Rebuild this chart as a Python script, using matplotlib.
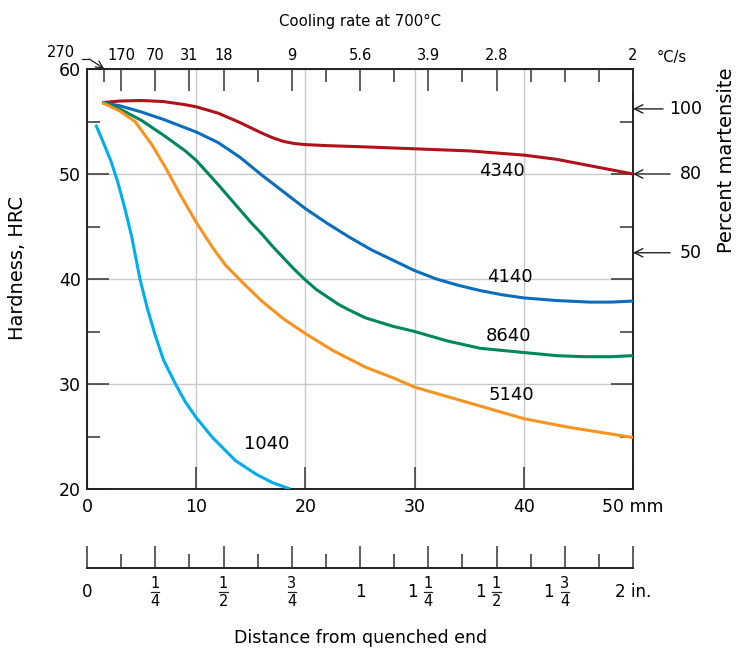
import numpy as np
import matplotlib
matplotlib.use('Agg')
import matplotlib.pyplot as plt
from matplotlib.ticker import FixedLocator, NullFormatter

plt.rcParams['font.family'] = ['DejaVu Sans']

# Jominy curves, distance (mm) vs hardness (HRC)
x_4340 = [1.4, 3, 5, 7, 9, 10, 12, 14, 15, 16, 17, 18, 19, 20, 22, 25, 30, 35, 40, 43, 45, 47, 50]
y_4340 = [56.8, 56.95, 57.0, 56.9, 56.6, 56.4, 55.8, 54.9, 54.4, 53.9, 53.45, 53.1, 52.9, 52.8,
          52.7, 52.6, 52.4, 52.2, 51.8, 51.4, 51.0, 50.6, 50.0]

x_4140 = [1.4, 3, 5, 7, 10, 12, 14, 16, 18, 20, 22, 24, 26, 28, 30, 32, 34, 36, 38, 40, 43, 46, 48, 50]
y_4140 = [56.8, 56.5, 55.9, 55.2, 54.0, 53.0, 51.6, 49.9, 48.3, 46.7, 45.3, 44.0, 42.8, 41.8,
          40.8, 40.0, 39.4, 38.9, 38.5, 38.2, 37.95, 37.8, 37.8, 37.9]

x_8640 = [1.4, 3, 5, 7, 9, 10, 12, 14, 15, 16, 17, 18, 19, 20, 21, 22, 23, 24, 25.5, 28, 30, 33, 36,
          40, 43, 45.5, 48, 50]
y_8640 = [56.8, 56.2, 55.1, 53.7, 52.2, 51.3, 49.0, 46.6, 45.4, 44.3, 43.1, 42.0, 40.9, 39.9,
          39.0, 38.3, 37.6, 37.05, 36.3, 35.5, 35.0, 34.1, 33.4, 33.0, 32.7, 32.6, 32.6, 32.7]

x_5140 = [1.4, 3, 4.4, 6, 7.3, 8.5, 10, 11.5, 12.7, 14.5, 16, 18, 20, 22.5, 25.5, 28, 30, 33, 36,
          40, 44, 47, 50]
y_5140 = [56.8, 56.0, 55.0, 52.7, 50.4, 48.1, 45.4, 43.0, 41.3, 39.4, 37.9, 36.2, 34.8, 33.2,
          31.6, 30.6, 29.7, 28.8, 27.9, 26.7, 25.9, 25.4, 24.9]

x_1040 = [0.8, 1.5, 2.2, 2.8, 3.5, 4.1, 4.85, 5.5, 6.2, 7.0, 8.1, 9.0, 10, 11.5, 13.6, 15.5, 17, 18.6]
y_1040 = [54.7, 53.0, 51.2, 49.3, 46.6, 44.0, 40.0, 37.3, 34.8, 32.3, 30.0, 28.3, 26.8, 24.9,
          22.7, 21.4, 20.6, 20.0]

steels = ['4340', '4140', '8640', '5140', '1040']
colors = ['#B0121B', '#0A6EBD', '#00875A', '#F7931E', '#00AEEF']
label_pos = [(38.0, 50.3), (38.7, 40.2), (38.6, 34.6), (38.9, 29.0), (16.5, 24.3)]

# top axis: cooling rate at 700 C, positions in inches (axis drawn with 2 in = 50 mm)
rate_in = [0.125, 0.25, 0.375, 0.5, 0.75, 1.0, 1.25, 1.5, 2.0]
rate_labels = ['170', '70', '31', '18', '9', '5.6', '3.9', '2.8', '2']
rate_minor_in = [0.0625, 0.625, 0.875, 1.125, 1.375, 1.625, 1.75, 1.875]

# right side: percent martensite against hardness
mart_pct = ['100', '80', '50']
mart_hrc = [56.2, 50.0, 42.5]

# bottom inch scale: whole part and fraction part of each label
inch_ticks = [0, 0.25, 0.5, 0.75, 1.0, 1.25, 1.5, 1.75, 2.0]
inch_whole = ['0', '', '', '', '1', '1', '1', '1', '2 in.']
inch_frac = ['', '1/4', '1/2', '3/4', '', '1/4', '1/2', '3/4', '']
inch_minor = [0.125, 0.375, 0.625, 0.875, 1.125, 1.375, 1.625, 1.875]

mm_per_in = 25.0

fig = plt.figure(figsize=(7.36, 6.5), dpi=100)
ax = fig.add_axes([87 / 736, 1 - 489 / 650, 546 / 736, 420 / 650])

xs = [x_4340, x_4140, x_8640, x_5140, x_1040]
ys = [y_4340, y_4140, y_8640, y_5140, y_1040]
for x, y, c, name, (lx, ly) in zip(xs, ys, colors, steels, label_pos):
    ax.plot(x, y, color=c, lw=2.2, solid_capstyle='butt', solid_joinstyle='round', zorder=3)
    ax.text(lx, ly, name, fontsize=13, ha='center', va='center', zorder=4)

ax.set_xlim(0, 50)
ax.set_ylim(20, 60)
ax.set_xticks([0, 10, 20, 30, 40, 50])
ax.set_xticklabels(['0', '10', '20', '30', '40', '50 mm'])
ax.set_yticks([20, 30, 40, 50, 60])
ax.yaxis.set_minor_locator(FixedLocator([25, 35, 45, 55]))
ax.grid(True, which='major', color='#c8c8c8', lw=1.0)
ax.tick_params(axis='x', direction='in', length=15.8, width=1.1, labelsize=12.5, pad=6.5,
               color='#333333')
ax.tick_params(axis='y', which='major', direction='in', length=15.8, width=1.1, labelsize=12.5,
               pad=4.5, right=True, color='#333333')
ax.tick_params(axis='y', which='minor', direction='in', length=9.4, width=1.1, right=True,
               color='#333333')
for s in ax.spines.values():
    s.set_linewidth(1.4)
    s.set_color('#222222')

# cooling rate axis on top
ax_top = ax.twiny()
ax_top.set_xlim(0, 50)
ax_top.set_xticks([v * mm_per_in for v in rate_in])
ax_top.set_xticklabels(rate_labels)
ax_top.xaxis.set_minor_locator(FixedLocator([v * mm_per_in for v in rate_minor_in]))
ax_top.xaxis.set_minor_formatter(NullFormatter())
ax_top.tick_params(axis='x', which='major', direction='in', length=15.8, width=1.1,
                   labelsize=10.5, pad=4, color='#333333')
ax_top.tick_params(axis='x', which='minor', direction='in', length=9.4, width=1.1,
                   color='#333333')
for s in ax_top.spines.values():
    s.set_visible(False)

ax.text(-2.35, 61.6, '270', fontsize=10.5, ha='center', va='center', clip_on=False)
ax.plot([-0.5, 0.2], [60.95, 60.95], color='#222222', lw=0.9, clip_on=False)
ax.annotate('', xy=(0.0625 * mm_per_in, 60.05), xytext=(0.2, 60.95),
            arrowprops=dict(arrowstyle='->,head_length=0.5,head_width=0.25', lw=0.9,
                            color='#222222', shrinkA=0, shrinkB=0),
            annotation_clip=False)
ax.text(53.5, 61.05, '°C/s', fontsize=10.5, ha='center', va='center', clip_on=False)
fig.text(360 / 736, 1 - 21 / 650, 'Cooling rate at 700°C', fontsize=10.7, ha='center', va='center')

# percent martensite arrows
arrow_start = [52.75, 53.4, 53.4]
for pct, h, xa in zip(mart_pct, mart_hrc, arrow_start):
    ax.annotate('', xy=(50, h), xytext=(xa, h),
                arrowprops=dict(arrowstyle='->,head_length=0.6,head_width=0.3', lw=1.0,
                                color='#222222', shrinkA=0, shrinkB=0),
                annotation_clip=False)
    ax.text(56.3, h, pct, fontsize=12.5, ha='right', va='center', clip_on=False)

fig.text(727 / 736, 1 - 160 / 650, 'Percent martensite', fontsize=14, rotation=90,
         ha='center', va='center')
fig.text(18 / 736, 1 - 268 / 650, 'Hardness, HRC', fontsize=14, rotation=90,
         ha='center', va='center')

# inch scale below
in_h = 0.03
ax_in = fig.add_axes([87 / 736, 1 - 568 / 650, 546 / 736, in_h])
ax_in.set_xlim(0, 2)
ax_in.set_ylim(0, 1)
ax_in.set_yticks([])
ax_in.set_xticks(inch_ticks)
ax_in.set_xticklabels([])
ax_in.xaxis.set_minor_locator(FixedLocator(inch_minor))
ax_in.tick_params(axis='x', which='major', direction='in', length=15.8, width=1.1,
                  color='#333333')
ax_in.tick_params(axis='x', which='minor', direction='in', length=10, width=1.1,
                  color='#333333')
for k in ['top', 'left', 'right']:
    ax_in.spines[k].set_visible(False)
ax_in.spines['bottom'].set_linewidth(1.4)
ax_in.spines['bottom'].set_color('#222222')
ax_in.patch.set_visible(False)

px = in_h * 650  # pixels per y unit of the inch axes
lab_y = -(592 - 568) / px
num_y = -(583 - 568) / px
den_y = -(602 - 568) / px
for t, w, fr in zip(inch_ticks, inch_whole, inch_frac):
    if fr:
        num, den = fr.split('/')
        ax_in.text(t, num_y, num, fontsize=10.5, ha='center', va='center', clip_on=False)
        ax_in.text(t, den_y, den, fontsize=10.5, ha='center', va='center', clip_on=False)
        ax_in.plot([t - 0.015, t + 0.015], [lab_y, lab_y], color='#222222', lw=0.9,
                   clip_on=False)
        if w:
            ax_in.text(t - 0.04, lab_y, w, fontsize=12, ha='right', va='center', clip_on=False)
    else:
        ax_in.text(t, lab_y, w, fontsize=12, ha='center', va='center', clip_on=False)

fig.text(361 / 736, 1 - 638 / 650, 'Distance from quenched end', fontsize=12.5,
         ha='center', va='center')

fig.savefig('out.png', dpi=100)
